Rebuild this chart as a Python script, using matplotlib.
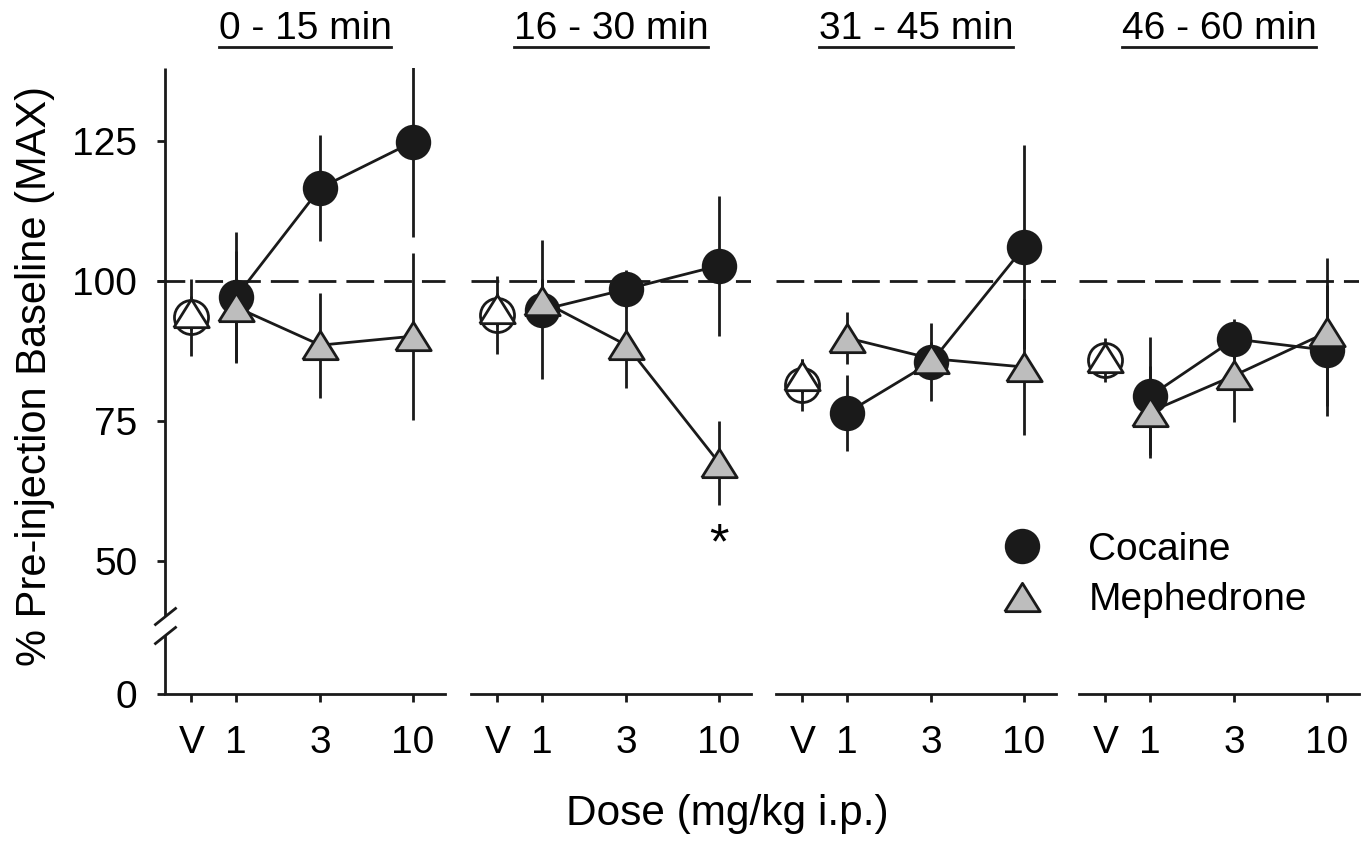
import numpy as np
import matplotlib.pyplot as plt
from matplotlib.lines import Line2D
from matplotlib.ticker import NullLocator

plt.rcParams['font.family'] = ['Liberation Sans', 'DejaVu Sans']
plt.rcParams['font.size'] = 28

titles = ['0 - 15 min', '16 - 30 min', '31 - 45 min', '46 - 60 min']
doses = [1, 3, 10]
veh_x = 0.56
tick_labels = ['V', '1', '3', '10']

# vehicle (open symbols)
veh_coc = [93.5, 93.9, 81.4, 85.8]
veh_coc_err = [6.9, 7.0, 4.6, 3.9]
veh_meph = [94.2, 94.9, 83.0, 86.2]
veh_meph_err = [3.0, 3.0, 3.0, 2.5]

# cocaine
coc_mean = [[97.1, 116.6, 124.8],
            [94.8, 98.5, 102.7],
            [76.4, 85.5, 106.0],
            [79.4, 89.6, 87.6]]
coc_err = [[11.6, 9.5, 17.0],
           [12.4, 3.4, 12.5],
           [6.8, 7.0, 18.2],
           [10.6, 3.5, 11.7]]

# mephedrone
meph_mean = [[95.3, 88.5, 90.1],
             [96.4, 88.5, 67.5],
             [89.8, 86.1, 84.6],
             [76.6, 83.1, 90.8]]
meph_err = [[10.0, 9.4, 14.9],
            [4.0, 7.7, 7.5],
            [4.6, 3.0, 12.1],
            [8.2, 8.3, 13.2]]

black = '#1a1a1a'
grey = '#bdbdbd'
tri = [(-1, -0.8), (1, -0.8), (0, 0.8), (-1, -0.8)]
lw = 2.0

W, H = 1368, 841
fig = plt.figure(figsize=(W / 100, H / 100), dpi=100)

lefts = [165, 471, 776, 1079]
ymin, ymax = 26.2, 138.0
axes = []
for i in range(4):
    ax = fig.add_axes([lefts[i] / W, (H - 694) / H, 280 / W, 626 / H])
    axes.append(ax)
    ax.set_xscale('log')
    ax.set_xlim(0.397, 15.17)
    ax.set_ylim(ymin, ymax)
    ax.xaxis.set_minor_locator(NullLocator())
    ax.set_xticks([veh_x] + doses)
    ax.set_xticklabels(tick_labels)
    for s in ['top', 'right', 'left']:
        ax.spines[s].set_visible(False)
    ax.spines['bottom'].set_linewidth(lw)
    ax.spines['bottom'].set_color(black)
    ax.tick_params(axis='x', direction='out', length=6, width=lw, color=black, pad=16)
    ax.patch.set_alpha(0)

    # reference line
    if i == 0:
        ax.axhline(100, xmin=-0.028, color=black, lw=lw, dashes=(10, 3.6), zorder=0.5, clip_on=False)
    else:
        ax.axhline(100, color=black, lw=lw, dashes=(10, 3.6), zorder=0.5)

    # error bars
    ax.errorbar([veh_x], [veh_coc[i]], yerr=[veh_coc_err[i]], fmt='none', ecolor=black, elinewidth=lw, capsize=0, zorder=1)
    ax.errorbar([veh_x], [veh_meph[i]], yerr=[veh_meph_err[i]], fmt='none', ecolor=black, elinewidth=lw, capsize=0, zorder=1)
    ax.errorbar(doses, coc_mean[i], yerr=coc_err[i], fmt='none', ecolor=black, elinewidth=lw, capsize=0, zorder=1)
    ax.errorbar(doses, meph_mean[i], yerr=meph_err[i], fmt='none', ecolor=black, elinewidth=lw, capsize=0, zorder=1)

    # vehicle symbols
    ax.plot([veh_x], [veh_coc[i]], marker='o', ms=24.5, mfc='none', mec=black, mew=lw, ls='none', zorder=2)
    ax.plot([veh_x], [veh_meph[i]], marker=tri, ms=25.5, mfc='white', mec=black, mew=lw, ls='none', zorder=3)

    # drugs
    ax.plot(doses, coc_mean[i], color=black, lw=lw, marker='o', ms=23.5, mfc=black, mec=black, mew=lw, zorder=4)
    ax.plot(doses, meph_mean[i], color=black, lw=lw, marker=tri, ms=25.5, mfc=grey, mec=black, mew=lw, zorder=5)

    ax.text(0.5, 1.046, titles[i], transform=ax.transAxes, ha='center', va='baseline')

ax1 = axes[0]
ax1.set_yticks([ymin, 50, 75, 100, 125])
ax1.set_yticklabels(['0', '50', '75', '100', '125'])
ax1.tick_params(axis='y', direction='out', length=6, width=lw, color=black, pad=14)
for ax in axes[1:]:
    ax.set_yticks([])

# left axis with break
yt = ax1.get_yaxis_transform()
ax1.plot([0, 0], [40.1, ymax], transform=yt, color=black, lw=lw, clip_on=False, solid_capstyle='butt')
ax1.plot([0, 0], [ymin, 36.7], transform=yt, color=black, lw=lw, clip_on=False, solid_capstyle='butt')
slash = [(-1, -0.8), (1, 0.8)]
for yb in [40.1, 36.7]:
    ax1.plot([0], [yb], transform=yt, marker=slash, ms=16, mew=lw, color=black, clip_on=False, ls='none')

ax1.set_ylabel('% Pre-injection Baseline (MAX)', fontsize=30)
ax1.yaxis.set_label_coords(-0.393, 0.508)

axes[1].text(10, 50.4, '*', ha='center', va='baseline', fontsize=36)

fig.text(727 / W, 16 / H, 'Dose (mg/kg i.p.)', ha='center', va='baseline', fontsize=30.5)

handles = [Line2D([], [], ls='none', marker='o', ms=23.5, mfc=black, mec=black, mew=lw),
           Line2D([], [], ls='none', marker=tri, ms=25.5, mfc=grey, mec=black, mew=lw)]
fig.legend(handles, ['Cocaine', 'Mephedrone'], loc='upper left', bbox_to_anchor=(1004 / W, (H - 532) / H),
           frameon=False, handlelength=0.93, handletextpad=1.24, labelspacing=0.37, borderpad=0, borderaxespad=0)

# underline the panel titles
fig.canvas.draw()
r = fig.canvas.get_renderer()
for ax in axes:
    t = ax.texts[0]
    bb = t.get_window_extent(r)
    yl = (H - 47) / H
    fig.add_artist(Line2D([bb.x0 / W, bb.x1 / W], [yl, yl], transform=fig.transFigure, color=black, lw=2))

fig.savefig('out.png', dpi=100)
